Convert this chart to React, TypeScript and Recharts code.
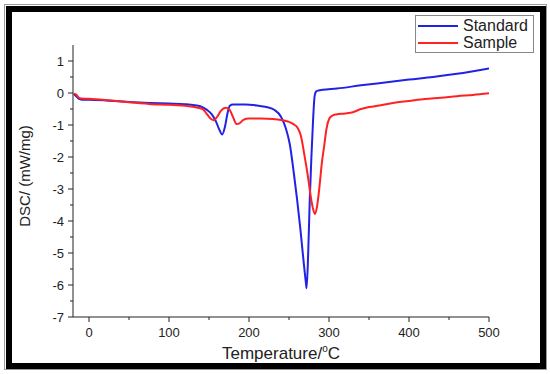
import React from "react"
import { LineChart, Line, XAxis, YAxis } from "recharts"

// Standard (blue) curve
const standardTemp = [-19, -16, -13, -9, 0, 25, 50, 75, 100, 120, 140, 147, 153, 158, 163, 166.5, 170, 173, 176, 180, 195, 210, 222, 232, 240, 246, 251, 256, 260, 264, 268, 271, 272, 274, 276, 278, 280, 282, 284, 287, 292, 310, 340, 370, 400, 430, 460, 500]
const standardDsc = [-0.03, -0.1, -0.18, -0.21, -0.21, -0.24, -0.28, -0.31, -0.33, -0.35, -0.42, -0.52, -0.65, -0.85, -1.15, -1.3, -1.05, -0.65, -0.4, -0.36, -0.36, -0.39, -0.44, -0.53, -0.74, -1.1, -1.6, -2.5, -3.3, -4.2, -5.2, -5.9, -6.1, -5.0, -3.3, -2.0, -0.9, -0.1, 0.05, 0.08, 0.1, 0.14, 0.24, 0.33, 0.42, 0.5, 0.6, 0.77]

// Sample (red) curve
const sampleTemp = [-19, -16, -13, -10, 0, 25, 50, 75, 100, 120, 132, 142, 148, 153, 156, 160, 165, 171, 175, 180, 184.5, 188, 193, 200, 215, 230, 242, 250, 256, 261, 265, 269, 273, 277, 280, 282.5, 285, 288, 291, 294, 297, 300, 304, 309, 320, 330, 340, 350, 365, 380, 400, 420, 440, 460, 480, 500]
const sampleDsc = [-0.02, -0.05, -0.14, -0.17, -0.18, -0.23, -0.29, -0.34, -0.37, -0.4, -0.44, -0.5, -0.68, -0.82, -0.85, -0.75, -0.55, -0.46, -0.5, -0.75, -0.97, -0.95, -0.84, -0.8, -0.8, -0.81, -0.85, -0.9, -0.98, -1.1, -1.35, -1.9, -2.5, -3.2, -3.62, -3.78, -3.55, -2.95, -2.2, -1.65, -1.1, -0.82, -0.71, -0.67, -0.64, -0.6, -0.5, -0.44, -0.38, -0.31, -0.25, -0.19, -0.15, -0.1, -0.06, -0.01]

const xTicks = [0, 50, 100, 150, 200, 250, 300, 350, 400, 450, 500]
const yTicks = [-7, -6.5, -6, -5.5, -5, -4.5, -4, -3.5, -3, -2.5, -2, -1.5, -1, -0.5, 0, 0.5, 1]
const seriesNames = ["Standard", "Sample"]

const standardData = standardTemp.map((t, i) => ({ t, v: standardDsc[i] }))
const sampleData = sampleTemp.map((t, i) => ({ t, v: sampleDsc[i] }))

const BLUE = "#2222e6"
const RED = "#ff2222"
const FONT = "'Liberation Sans', Arial, sans-serif"

const XTick = (props: any) => {
  const { x, y, payload } = props
  const major = payload.value % 100 === 0
  return (
    <g>
      <line x1={x} x2={x} y1={y} y2={y + (major ? 5 : 3)} stroke="#222" />
      {major && (
        <text x={x} y={y + 20} textAnchor="middle" fontSize={13} fill="#222" fontFamily={FONT}>
          {payload.value}
        </text>
      )}
    </g>
  )
}

const YTick = (props: any) => {
  const { x, y, payload } = props
  const major = Number.isInteger(payload.value)
  return (
    <g>
      <line x1={x - (major ? 5 : 3)} x2={x} y1={y} y2={y} stroke="#222" />
      {major && (
        <text x={x - 9} y={y + 4.5} textAnchor="end" fontSize={13} fill="#222" fontFamily={FONT}>
          {payload.value}
        </text>
      )}
    </g>
  )
}

export default function App() {
  return (
    <div style={{ position: "fixed", left: 0, top: 0, width: 550, height: 374, background: "#fff" }}>
      <LineChart width={550} height={374} margin={{ top: 45, right: 61, bottom: 27, left: 33 }}>
        <XAxis
          dataKey="t"
          type="number"
          domain={[-20, 500]}
          ticks={xTicks}
          interval={0}
          allowDataOverflow
          tickLine={false}
          tickSize={0}
          tickMargin={0}
          tick={<XTick />}
          stroke="#222"
          height={30}
        />
        <YAxis
          type="number"
          domain={[-7, 1.5]}
          ticks={yTicks}
          interval={0}
          allowDataOverflow
          tickLine={false}
          tickSize={0}
          tickMargin={0}
          tick={<YTick />}
          stroke="#222"
          width={40}
        />
        <Line data={standardData} dataKey="v" name="Standard" type="monotone" stroke={BLUE} strokeWidth={2} dot={false} isAnimationActive={false} />
        <Line data={sampleData} dataKey="v" name="Sample" type="monotone" stroke={RED} strokeWidth={2} dot={false} isAnimationActive={false} />
        <text x={281} y={359} textAnchor="middle" fontSize={17} fill="#222" fontFamily={FONT}>
          Temperature/<tspan fontSize={10} dy={-7}>o</tspan><tspan dy={7}>C</tspan>
        </text>
        <text x={30} y={176} textAnchor="middle" fontSize={15} fill="#222" fontFamily={FONT} transform="rotate(-90 30 176)">
          DSC/ (mW/mg)
        </text>
      </LineChart>
      <div style={{ position: "absolute", left: 415, top: 15, width: 119, height: 38, border: "1px solid #888", background: "#fff", boxSizing: "border-box", fontFamily: FONT, fontSize: 16, color: "#222", paddingTop: 1 }}>
        {seriesNames.map((name, i) => (
          <div key={name} style={{ display: "flex", alignItems: "center", height: 17 }}>
            <div style={{ width: 40, height: 2, background: i === 0 ? BLUE : RED, marginLeft: 2, marginRight: 5 }} />
            <span style={{ lineHeight: "17px" }}>{name}</span>
          </div>
        ))}
      </div>
      <div style={{ position: "absolute", left: 4, top: 4, width: 543, height: 366, border: "1px solid #999", boxSizing: "border-box", pointerEvents: "none" }} />
      <div style={{ position: "absolute", left: 6, top: 6, width: 540, height: 363, border: "6px solid #000", boxSizing: "border-box", pointerEvents: "none" }} />
    </div>
  )
}
